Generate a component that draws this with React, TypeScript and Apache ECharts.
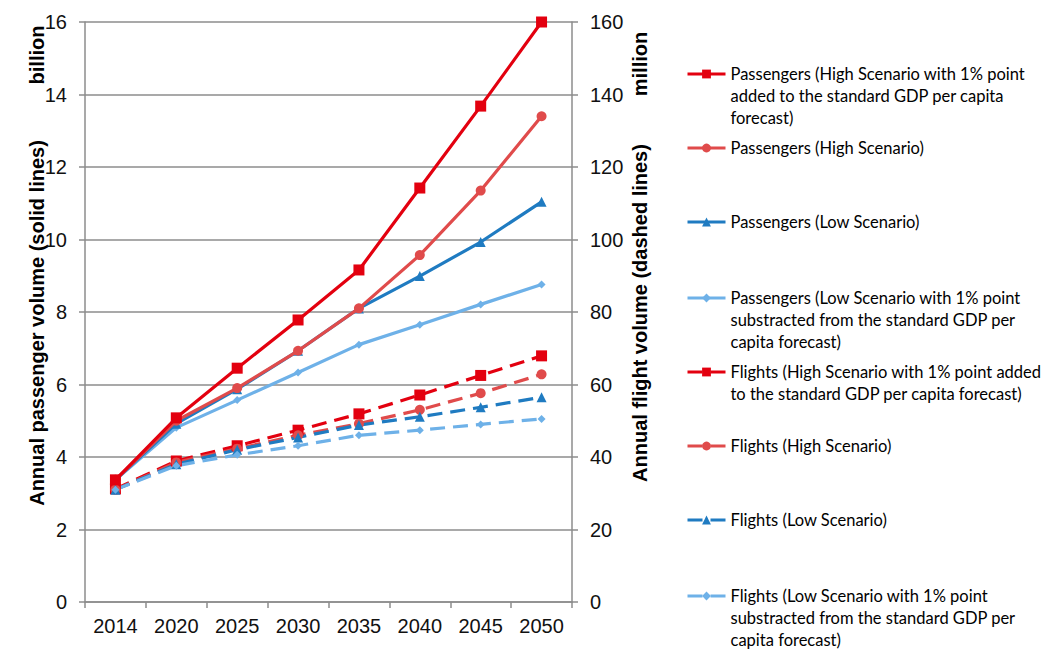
import React, { useEffect, useRef } from "react";
import * as echarts from "echarts";

const years = ["2014", "2020", "2025", "2030", "2035", "2040", "2045", "2050"];

const paxHighPlus = [3.37, 5.08, 6.45, 7.78, 9.16, 11.42, 13.68, 16.0];
const paxHigh = [3.37, 5.0, 5.9, 6.93, 8.1, 9.57, 11.35, 13.4];
const paxLow = [3.37, 4.92, 5.87, 6.93, 8.1, 8.99, 9.93, 11.04];
const paxLowMinus = [3.37, 4.81, 5.57, 6.33, 7.1, 7.65, 8.21, 8.76];

const fltHighPlus = [31.2, 38.9, 43.1, 47.4, 51.9, 57.1, 62.5, 67.9];
const fltHigh = [31.0, 38.5, 42.3, 46.0, 49.2, 53.0, 57.6, 62.8];
const fltLow = [31.0, 38.0, 42.0, 45.4, 48.8, 51.1, 53.7, 56.5];
const fltLowMinus = [31.0, 37.6, 40.6, 43.1, 46.0, 47.4, 49.0, 50.5];

const leftTicks = [0, 2, 4, 6, 8, 10, 12, 14, 16];
const rightTicks = [0, 20, 40, 60, 80, 100, 120, 140, 160];

const names = [
  "Passengers (High Scenario with 1% point added to the standard GDP per capita forecast)",
  "Passengers (High Scenario)",
  "Passengers (Low Scenario)",
  "Passengers (Low Scenario with 1% point substracted from the standard GDP per capita forecast)",
  "Flights (High Scenario with 1% point added to the standard GDP per capita forecast)",
  "Flights (High Scenario)",
  "Flights (Low Scenario)",
  "Flights (Low Scenario with 1% point substracted from the standard GDP per capita forecast)",
];

const legendLines = [
  ["Passengers (High Scenario with 1% point", "added to the standard GDP per capita", "forecast)"],
  ["Passengers (High Scenario)"],
  ["Passengers (Low Scenario)"],
  ["Passengers (Low Scenario with 1% point", "substracted from the standard GDP per", "capita forecast)"],
  ["Flights (High Scenario with 1% point added", "to the standard GDP per capita forecast)"],
  ["Flights (High Scenario)"],
  ["Flights (Low Scenario)"],
  ["Flights (Low Scenario with 1% point", "substracted from the standard GDP per", "capita forecast)"],
];

const legendCenters = [74, 148, 222, 298, 372, 446, 520, 596];

const colors = ["#E3000F", "#E04B4B", "#1F7BC1", "#6EB1E8"];
const symbols = ["rect", "circle", "triangle", "diamond"];
const symbolSizes = [11, 10, 10, 8];

export default function App() {
  const ref = useRef<HTMLDivElement>(null);

  useEffect(() => {
    if (!ref.current) return;
    const chart = echarts.init(ref.current, undefined, { renderer: "svg" });
    const pax = [paxHighPlus, paxHigh, paxLow, paxLowMinus];
    const flt = [fltHighPlus, fltHigh, fltLow, fltLowMinus];
    const series: any[] = [];
    const allData = [...pax, ...flt];
    allData.forEach((d, i) => {
      const k = i % 4;
      const dashed = i >= 4;
      series.push({
        name: names[i],
        type: "line",
        yAxisIndex: dashed ? 1 : 0,
        data: d,
        symbol: symbols[k],
        symbolSize: symbolSizes[k],
        z: dashed ? 2 : 3 + (3 - k),
        lineStyle: {
          color: colors[k],
          width: 3.2,
          type: dashed ? [15, 8] : "solid",
        },
        itemStyle: { color: colors[k] },
      });
    });

    const lineH = 22;
    const itemH = 11;
    const legends = legendLines.map((lines, i) => {
      const n = lines.length;
      const blank = Array(n - 1).fill(" ");
      const text = [...blank, ...lines].join("\n");
      const half = ((2 * n - 1) * lineH) / 2;
      const offset = Math.max(half - itemH / 2, 0) + itemH / 2;
      return {
        data: [names[i]],
        orient: "vertical",
        left: 686,
        top: legendCenters[i] - offset,
        padding: 0,
        itemWidth: 38,
        itemHeight: itemH,
        itemGap: 6,
        formatter: () => text,
        lineStyle: { width: 3 },
        textStyle: {
          fontFamily: "Lato",
          fontSize: 16.5,
          color: "#000",
          lineHeight: lineH,
        },
      };
    });

    const axisLine = { show: true, lineStyle: { color: "#8C8C8C", width: 1.5 } };
    const axisLabelStyle = { fontFamily: "Liberation Sans", fontSize: 20, color: "#111" };
    const titleFont = "bold 20px 'Liberation Sans'";

    chart.setOption({
      animation: false,
      grid: { left: 85, right: 484, top: 22, bottom: 47, containLabel: false },
      legend: legends,
      xAxis: {
        type: "category",
        data: years,
        boundaryGap: true,
        axisLine,
        axisTick: { show: true, length: 6, lineStyle: { color: "#8C8C8C", width: 1.5 } },
        axisLabel: { ...axisLabelStyle, margin: 14 },
      },
      yAxis: [
        {
          type: "value",
          min: leftTicks[0],
          max: leftTicks[leftTicks.length - 1],
          interval: 2,
          axisLine,
          axisTick: { show: true, length: 6, lineStyle: { color: "#8C8C8C", width: 1.5 } },
          axisLabel: { ...axisLabelStyle, margin: 18 },
          splitLine: { show: true, lineStyle: { color: "#8C8C8C", width: 1.5 } },
        },
        {
          type: "value",
          min: rightTicks[0],
          max: rightTicks[rightTicks.length - 1],
          interval: 20,
          position: "right",
          axisLine,
          axisTick: { show: true, length: 6, lineStyle: { color: "#8C8C8C", width: 1.5 } },
          axisLabel: { ...axisLabelStyle, margin: 18 },
          splitLine: { show: false },
        },
      ],
      graphic: [
        {
          type: "text",
          x: 37,
          y: 323,
          rotation: Math.PI / 2,
          style: {
            text: "Annual passenger volume (solid lines)",
            font: titleFont,
            fill: "#000",
            textAlign: "center",
            textVerticalAlign: "middle",
          },
        },
        {
          type: "text",
          x: 37,
          y: 55,
          rotation: Math.PI / 2,
          style: {
            text: "billion",
            font: titleFont,
            fill: "#000",
            textAlign: "center",
            textVerticalAlign: "middle",
          },
        },
        {
          type: "text",
          x: 640,
          y: 313,
          rotation: Math.PI / 2,
          style: {
            text: "Annual flight volume (dashed lines)",
            font: titleFont,
            fill: "#000",
            textAlign: "center",
            textVerticalAlign: "middle",
          },
        },
        {
          type: "text",
          x: 640,
          y: 64,
          rotation: Math.PI / 2,
          style: {
            text: "million",
            font: titleFont,
            fill: "#000",
            textAlign: "center",
            textVerticalAlign: "middle",
          },
        },
      ],
      series,
    });
    return () => chart.dispose();
  }, []);

  return (
    <div
      ref={ref}
      style={{ position: "absolute", left: 0, top: 0, width: 1056, height: 649 }}
    />
  );
}
